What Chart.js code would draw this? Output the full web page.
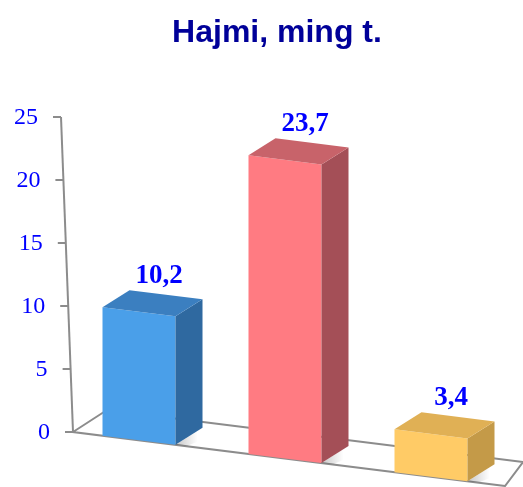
<!DOCTYPE html>
<html>
<head>
<meta charset="utf-8">
<script src="https://cdn.jsdelivr.net/npm/chart.js@4/dist/chart.umd.min.js"></script>
<style>
html,body{margin:0;padding:0;background:#fff;}
#wrap{width:523px;height:487px;position:relative;}
</style>
</head>
<body>
<div id="wrap"><canvas id="c"></canvas></div>
<script>
// ---- data ----
const categories = ['A', 'B', 'C'];
const values = [10.2, 23.7, 3.4];
const valueLabels = ['10,2', '23,7', '3,4'];
const yTickValues = [0, 5, 10, 15, 20, 25];
const yTickLabels = ['0', '5', '10', '15', '20', '25'];
const titleText = 'Hajmi, ming t.';

// ---- styles ----
const frontColors = ['#4a9fe9', '#ff7b82', '#ffcb66'];
const topColors = ['#3b7fc0', '#c8636a', '#e0b055'];
const sideColors = ['#2f69a0', '#a44f57', '#c49a48'];

const K = 0.125;            // floor slope (perspective shear)
const DEPTH = {x: 27, y: -17};
const AXIS_OFFSET = 7;      // axis base relative to chartArea.left
const AXIS_LEAN = 12;       // axis leans left toward top

function axisBaseX(chart) { return chart.chartArea.left + AXIS_OFFSET; }
function S(chart, x, y) { return y + K * (x - axisBaseX(chart)); }

const plugin3d = {
  id: 'p3d',
  beforeDraw(chart) {
    const ctx = chart.ctx;
    const ys = chart.scales.y;
    const ca = chart.chartArea;
    const ax = axisBaseX(chart);
    const y0 = ys.getPixelForValue(0);
    const yMaxV = yTickValues[yTickValues.length - 1];
    const axAt = v => ax - AXIS_LEAN * v / yMaxV;
    ctx.save();
    // title
    ctx.fillStyle = '#000099';
    ctx.font = 'bold 32px "Liberation Sans", Arial, sans-serif';
    ctx.textAlign = 'center';
    ctx.textBaseline = 'middle';
    ctx.fillText(titleText, 277, 33);
    // floor
    ctx.strokeStyle = '#8c8c8c';
    ctx.lineWidth = 2;
    const frx = ca.right + 1;
    const fl = [ax, y0];
    const fr = [frx, S(chart, frx, y0)];
    const bl = [ax + 34, y0 - 22];
    const br = [frx + 18, S(chart, frx, y0) - 24];
    ctx.beginPath();
    ctx.moveTo(bl[0], bl[1]); ctx.lineTo(fl[0], fl[1]); ctx.lineTo(fr[0], fr[1]);
    ctx.lineTo(br[0], br[1]); ctx.lineTo(bl[0], bl[1]);
    ctx.stroke();
    // axis
    ctx.beginPath();
    ctx.moveTo(ax, y0);
    ctx.lineTo(axAt(yMaxV), ys.getPixelForValue(yMaxV));
    ctx.stroke();
    // ticks + labels
    ctx.fillStyle = '#0000ff';
    ctx.font = '24px "Liberation Serif", "Times New Roman", serif';
    ctx.textAlign = 'right';
    ctx.textBaseline = 'middle';
    yTickValues.forEach((v, i) => {
      const y = ys.getPixelForValue(v);
      const x = axAt(v);
      ctx.beginPath();
      ctx.moveTo(x - 8, y); ctx.lineTo(x, y);
      ctx.stroke();
      ctx.fillText(yTickLabels[i], x - 23, y + 1);
    });
    ctx.restore();
  },
  beforeDatasetsDraw(chart) {
    const ctx = chart.ctx;
    ctx.save();
    ctx.transform(1, K, 0, 1, 0, -K * axisBaseX(chart));
  },
  afterDatasetsDraw(chart) {
    const ctx = chart.ctx;
    ctx.restore();
    const meta = chart.getDatasetMeta(0);
    ctx.save();
    meta.data.forEach((el, i) => {
      const p = el.getProps(['x', 'y', 'base', 'width'], true);
      const l = p.x - p.width / 2, r = p.x + p.width / 2;
      const TL = [l, S(chart, l, p.y)];
      const TR = [r, S(chart, r, p.y)];
      const BR = [r, S(chart, r, p.base)];
      const poly = (pts, c) => {
        ctx.beginPath();
        ctx.moveTo(pts[0][0], pts[0][1]);
        for (let j = 1; j < pts.length; j++) ctx.lineTo(pts[j][0], pts[j][1]);
        ctx.closePath();
        ctx.fillStyle = c;
        ctx.fill();
      };
      const add = q => [q[0] + DEPTH.x, q[1] + DEPTH.y];
      // soft shadow on floor
      ctx.save();
      const g = ctx.createLinearGradient(BR[0], 0, BR[0] + 22, 0);
      g.addColorStop(0, 'rgba(0,0,0,0.22)');
      g.addColorStop(1, 'rgba(0,0,0,0)');
      poly([BR, add(BR), [add(BR)[0] + 22, add(BR)[1] + 3], [BR[0] + 12, BR[1] + 1]], g);
      ctx.restore();
      poly([TR, BR, add(BR), add(TR)], sideColors[i]);
      poly([TL, TR, add(TR), add(TL)], topColors[i]);
      // value label
      ctx.fillStyle = '#0000ff';
      ctx.font = 'bold 27px "Liberation Serif", "Times New Roman", serif';
      ctx.textAlign = 'center';
      ctx.textBaseline = 'alphabetic';
      ctx.fillText(valueLabels[i], p.x + 20, S(chart, p.x, p.y) + DEPTH.y - 12);
    });
    ctx.restore();
  }
};

new Chart(document.getElementById('c'), {
  type: 'bar',
  data: {
    labels: categories,
    datasets: [{
      data: values,
      backgroundColor: frontColors,
      borderWidth: 0,
      categoryPercentage: 1.0,
      barPercentage: 0.5,
      clip: false
    }]
  },
  options: {
    responsive: true,
    maintainAspectRatio: false,
    animation: false,
    layout: { padding: { left: 66, right: 19, top: 117, bottom: 55 } },
    plugins: { legend: { display: false }, tooltip: { enabled: false }, title: { display: false } },
    scales: {
      x: { display: false },
      y: { display: false, min: 0, max: 25, ticks: { stepSize: 5 } }
    }
  },
  plugins: [plugin3d]
});
</script>
</body>
</html>
